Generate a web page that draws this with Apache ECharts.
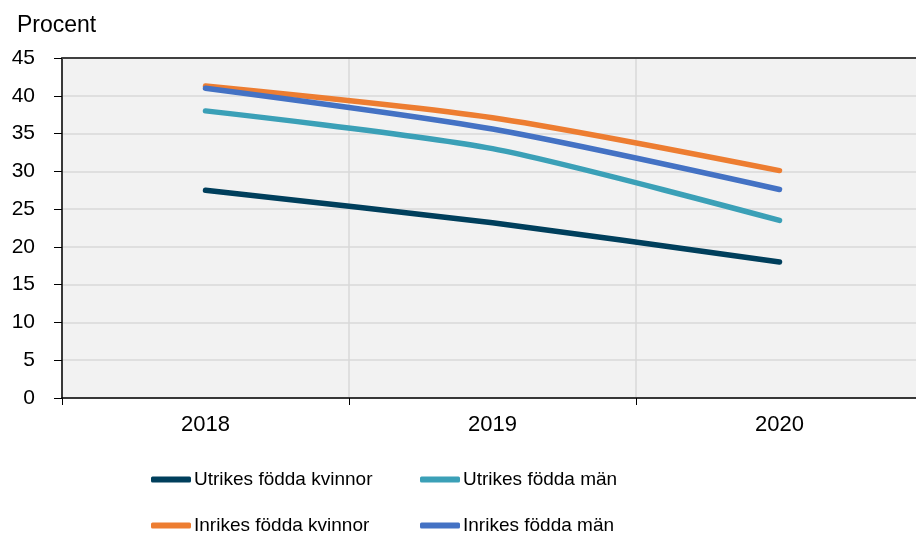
<!DOCTYPE html>
<html>
<head>
<meta charset="utf-8">
<script src="https://cdn.jsdelivr.net/npm/echarts@6/dist/echarts.min.js"></script>
<style>html,body{margin:0;padding:0;background:#fff;overflow:hidden}#c{width:923px;height:535px}</style>
</head>
<body>
<div id="c"></div>
<script>
var categories = ['2018', '2019', '2020'];
var utrikesKvinnor = [27.5, 23.2, 18.0];
var utrikesMan = [38.0, 33.0, 23.5];
var inrikesKvinnor = [41.3, 37.1, 30.1];
var inrikesMan = [41.0, 35.6, 27.6];
var seriesNames = ['Utrikes födda kvinnor', 'Utrikes födda män', 'Inrikes födda kvinnor', 'Inrikes födda män'];
var seriesColors = ['#003f5c', '#3ba0b7', '#ed7d31', '#4472c4'];
var yMin = 0, yMax = 45, yStep = 5;

var FONT = 'Liberation Sans';
var chart = echarts.init(document.getElementById('c'));
function mk(name, data, color) {
  return {
    name: name, type: 'line', data: data, symbol: 'none', smooth: 0.25,
    lineStyle: { width: 5.5, color: color, cap: 'round', join: 'round' },
    itemStyle: { color: color }, z: 5
  };
}
function leg(name, left, top) {
  return {
    data: [name], left: left, top: top, icon: 'roundRect',
    itemWidth: 40, itemHeight: 6, itemGap: 4, padding: 0,
    textStyle: { fontFamily: FONT, fontSize: 19, color: '#000', padding: [0, 0, 0, -2] },
    selectedMode: false
  };
}
chart.setOption({
  animation: false,
  textStyle: { fontFamily: FONT },
  grid: { left: 62, top: 58, width: 861, height: 340, backgroundColor: '#f2f2f2', show: true, borderWidth: 0 },
  title: { text: 'Procent', left: 12, top: 9, textStyle: { fontFamily: FONT, fontSize: 23, fontWeight: 'normal', color: '#000' } },
  legend: [
    leg(seriesNames[0], 151, 470),
    leg(seriesNames[1], 420, 470),
    leg(seriesNames[2], 151, 516),
    leg(seriesNames[3], 420, 516)
  ],
  xAxis: [{
    type: 'category', data: categories, boundaryGap: true,
    axisLine: { lineStyle: { color: '#000', width: 1.5 } },
    axisTick: { show: true, length: 7, interval: 0, lineStyle: { color: '#000' } },
    axisLabel: { fontFamily: FONT, fontSize: 22, color: '#000', margin: 16 },
    splitLine: { show: true, interval: 0, lineStyle: { color: '#d9d9d9', width: 1.5 } }
  }, {
    type: 'category', data: categories, position: 'top', boundaryGap: true,
    axisLine: { show: true, lineStyle: { color: '#404040', width: 2 } },
    axisTick: { show: false }, axisLabel: { show: false }, splitLine: { show: false }
  }],
  yAxis: {
    type: 'value', min: yMin, max: yMax, interval: yStep,
    axisLine: { show: true, lineStyle: { color: '#000', width: 1.5 } },
    axisTick: { show: true, length: 8, lineStyle: { color: '#000' } },
    axisLabel: { fontFamily: FONT, fontSize: 21, color: '#000', margin: 27 },
    splitLine: { show: true, lineStyle: { color: '#d9d9d9', width: 1.5 } }
  },
  series: [
    mk(seriesNames[0], utrikesKvinnor, seriesColors[0]),
    mk(seriesNames[1], utrikesMan, seriesColors[1]),
    mk(seriesNames[2], inrikesKvinnor, seriesColors[2]),
    mk(seriesNames[3], inrikesMan, seriesColors[3])
  ]
});
</script>
</body>
</html>
